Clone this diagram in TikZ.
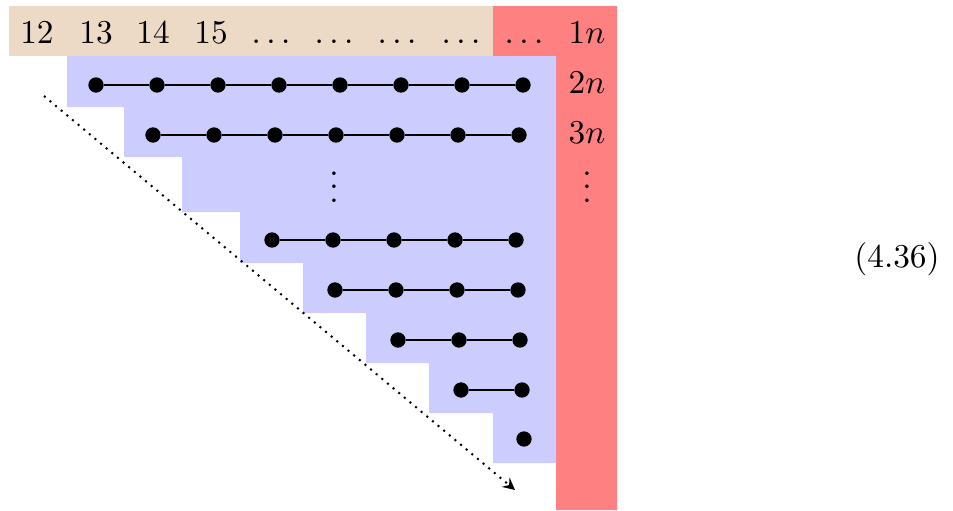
\documentclass[tikz,border=0pt]{standalone}
\usepackage{tikz}
\usepackage{xcolor}

\begin{document}
\begin{tikzpicture}[x=0.3pt, y=-0.3pt,
  pt/.style={circle, fill=black, inner sep=0pt, minimum size=4.6pt},
  lbl/.style={anchor=base, inner sep=0pt}]

\useasboundingbox (0,0) rectangle (953,510);

% Bande du haut
\fill[brown!30] (9,6) rectangle (493,56);

% Colonne de droite
\fill[red!50] (493,6) -- (617,6) -- (617,510) -- (556,510) -- (556,56) -- (493,56) -- cycle;

% Escalier bleu
\fill[blue!20] (67,56) -- (556,56) -- (556,463) -- (493,463) |- (429,413) |- (366,363)
  |- (303,313) |- (240,263) |- (182,212) |- (124,157) |- (67,107) -- cycle;

% Etiquettes du haut
\foreach \t/\x in {12/37, 13/96, 14/153, 15/211}
  \node[lbl] (top\t) at (\x,43) {\t};
\foreach \x [count=\i] in {271,334,397,461,524}
  \node[lbl] (dots\i) at (\x,43) {$\dots$};

% Etiquettes de droite
\node[lbl] (n1) at (587,43) {$1n$};
\node[lbl] (n2) at (587,93) {$2n$};
\node[lbl] (n3) at (587,143) {$3n$};
\node (vdA) at (334,177) {$\vdots$};
\node (vdB) at (587,177) {$\vdots$};

% Rangees de points
\foreach \r/\xs/\ys/\cnt in {a/96/85/8, b/153/135/7, c/272/240/5, d/335/290/4, e/398/340/3, f/461/390/2, g/524/439/1}{
  \foreach \k in {1,...,\cnt}
    \node[pt] (\r\k) at ({\xs+61*(\k-1)},\ys) {};
  \ifnum\cnt>1
    \foreach \k [evaluate=\k as \j using int(\k-1)] in {2,...,\cnt}
      \draw[semithick] (\r\j) -- (\r\k);
  \fi
}

% Fleche en diagonale
\coordinate (diagS) at (44,96);
\coordinate (diagE) at (515,490);
\draw[semithick, dash pattern=on 0.6pt off 1.6pt, ->, >=stealth] (diagS) -- (diagE);

% Numero
\node[lbl] (tag) at (897,267) {(4.36)};

\end{tikzpicture}
\end{document}
